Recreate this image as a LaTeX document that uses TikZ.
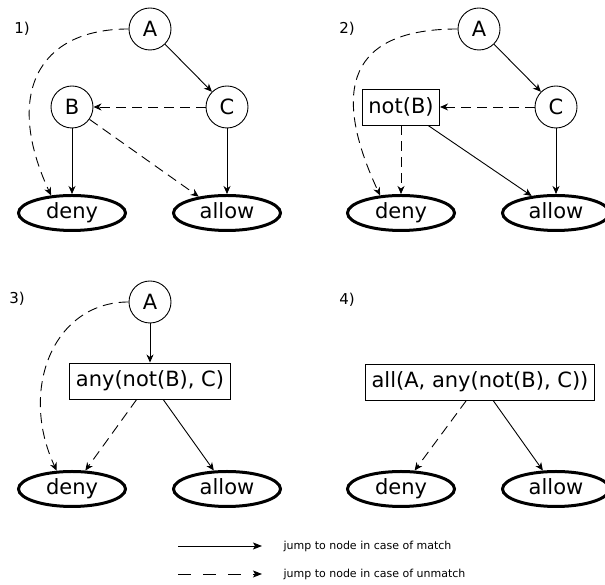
\documentclass[tikz,border=0pt]{standalone}
\usepackage{fontspec}
\setmainfont{DejaVu Sans}
\usetikzlibrary{shapes.geometric,arrows.meta}

\tikzset{
  rule/.style={draw,circle,line width=0.9pt,minimum size=42pt,inner sep=0pt,font=\fontsize{21}{21}\selectfont},
  cond/.style={draw,rectangle,line width=0.9pt,minimum height=36pt,inner xsep=6pt,font=\fontsize{21}{21}\selectfont},
  verdict/.style={draw,ellipse,line width=3pt,minimum width=107pt,minimum height=35pt,inner sep=0pt,
    text height=15pt,text depth=4pt,font=\fontsize{21}{21}\selectfont},
  panel/.style={font=\fontsize{15}{15}\selectfont},
  note/.style={anchor=west,font=\fontsize{11}{11}\selectfont},
  match/.style={-{Stealth[length=8pt,width=7pt,inset=2.5pt]},line width=0.9pt},
  unmatch/.style={match,dash pattern=on 10pt off 6pt},
  around/.style={out=180,in=115,out distance=92pt,in distance=110pt},
}

\begin{document}
\begin{tikzpicture}[x=1pt,y=1pt]
  \useasboundingbox (0,0) rectangle (605,585);

  % 1)
  \node[panel] (p1) at (22,556) {1)};
  \node[rule] (a1) at (150,556) {A};
  \node[rule] (b1) at (72,478) {B};
  \node[rule] (c1) at (227,478) {C};
  \node[verdict] (deny1) at (72,372) {deny};
  \node[verdict] (allow1) at (227,372) {allow};
  \draw[match] (a1) -- (c1);
  \draw[unmatch] (c1) -- (b1);
  \draw[match] (b1) -- (deny1);
  \draw[match] (c1) -- (allow1);
  \draw[unmatch] (b1) -- (allow1.150);
  \draw[unmatch] (a1.west) to[around] (deny1.140);

  % 2)
  \node[panel] (p2) at (347,556) {2)};
  \node[rule] (a2) at (479,556) {A};
  \node[cond] (b2) at (401,478) {not(B)};
  \node[rule] (c2) at (556,478) {C};
  \node[verdict] (deny2) at (401,372) {deny};
  \node[verdict] (allow2) at (556,372) {allow};
  \draw[match] (a2) -- (c2);
  \draw[unmatch] (c2) -- (b2);
  \draw[unmatch] (b2) -- (deny2);
  \draw[match] (c2) -- (allow2);
  \draw[match] (b2) -- (allow2.145);
  \draw[unmatch] (a2.west) to[around,out distance=108pt,in distance=118pt] (deny2.140);

  % 3)
  \node[panel] (p3) at (17,286) {3)};
  \node[rule] (a3) at (150,283) {A};
  \node[cond] (bc3) at (150,204) {any(not(B), C)};
  \node[verdict] (deny3) at (72,96) {deny};
  \node[verdict] (allow3) at (227,96) {allow};
  \draw[match] (a3) -- (bc3);
  \draw[unmatch] (bc3) -- (deny3);
  \draw[match] (bc3) -- (allow3);
  \draw[unmatch] (a3.west) to[around,out distance=75pt,in distance=90pt] (deny3.130);

  % 4)
  \node[panel] (p4) at (347,285) {4)};
  \node[cond] (abc4) at (480,203) {all(A, any(not(B), C))};
  \node[verdict] (deny4) at (401,96) {deny};
  \node[verdict] (allow4) at (556,96) {allow};
  \draw[unmatch] (abc4) -- (deny4);
  \draw[match] (abc4) -- (allow4);

  % legend
  \coordinate (m0) at (178,39);
  \coordinate (m1) at (262,39);
  \coordinate (u0) at (178,11);
  \coordinate (u1) at (262,11);
  \node[note] (mtxt) at (280,39) {jump to node in case of match};
  \node[note] (utxt) at (280,11) {jump to node in case of unmatch};
  \draw[-{Stealth[length=9pt,width=7pt,inset=2pt]},line width=0.9pt] (m0) -- (m1);
  \draw[-{Stealth[length=9pt,width=7pt,inset=2pt]},line width=0.9pt,dash pattern=on 13pt off 12pt] (u0) -- (u1);
\end{tikzpicture}
\end{document}
